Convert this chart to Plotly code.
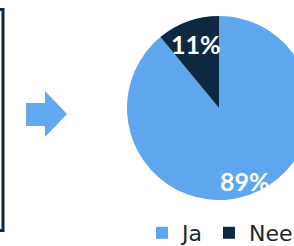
import math
import plotly.graph_objects as go

labels = ["Ja", "Nee"]
values = [89, 11]
colors = ["#5EA6EE", "#0E2841"]

W, H = 312, 246
# pie geometry in pixels
cx, cy, r = 219, 108, 92

def px_x(x):
    return x / W

def px_y(y):
    return 1 - y / H

fig = go.Figure()
fig.add_trace(go.Pie(
    labels=labels, values=values, sort=False, direction="clockwise", rotation=0,
    marker=dict(colors=colors, line=dict(width=0)),
    textinfo="none", hoverinfo="label+percent",
    domain=dict(x=[px_x(cx - r), px_x(cx + r)], y=[px_y(cy + r), px_y(cy - r)]),
))

# labels from data
total = sum(values)
cum = 0
rfrac = [0.84, 0.74]
anns = []
for i, v in enumerate(values):
    mid = (cum + v / 2) / total * 2 * math.pi
    cum += v
    tx = cx + rfrac[i] * r * math.sin(mid)
    ty = cy - rfrac[i] * r * math.cos(mid)
    anns.append(dict(x=px_x(tx), y=px_y(ty), xref="paper", yref="paper",
                     xanchor="center", yanchor="middle",
                     text=f"<b>{round(v / total * 100)}%</b>", showarrow=False,
                     font=dict(family="Lato", size=25, color="white")))

shapes = [
    dict(type="rect", xref="paper", yref="paper",
         x0=px_x(-30), x1=px_x(3), y0=px_y(230.5), y1=px_y(9.5),
         line=dict(color="#0E2841", width=3)),
]
# arrow path in pixels -> paper
pts = [(26, 103), (45, 103), (45, 91), (67, 114), (45, 137), (45, 126), (26, 126)]
path = "M " + " L ".join(f"{px_x(x):.5f},{px_y(y):.5f}" for x, y in pts) + " Z"
shapes.append(dict(type="path", xref="paper", yref="paper", path=path,
                   fillcolor="#61A9F1", line=dict(width=0)))

fig.update_layout(
    width=W, height=H, margin=dict(l=0, r=0, t=0, b=0, autoexpand=False),
    paper_bgcolor="white", plot_bgcolor="white",
    showlegend=True,
    legend=dict(orientation="h", x=px_x(142), xanchor="left", y=px_y(233), yanchor="middle",
                font=dict(family="DejaVu Sans", size=22, color="#262626"), itemwidth=30,
                traceorder="normal", bgcolor="rgba(0,0,0,0)"),
    annotations=anns, shapes=shapes,
)

fig.write_html("out.html", config={"displayModeBar": False},
               post_script="document.body.style.margin='0';document.body.style.overflow='hidden';")
